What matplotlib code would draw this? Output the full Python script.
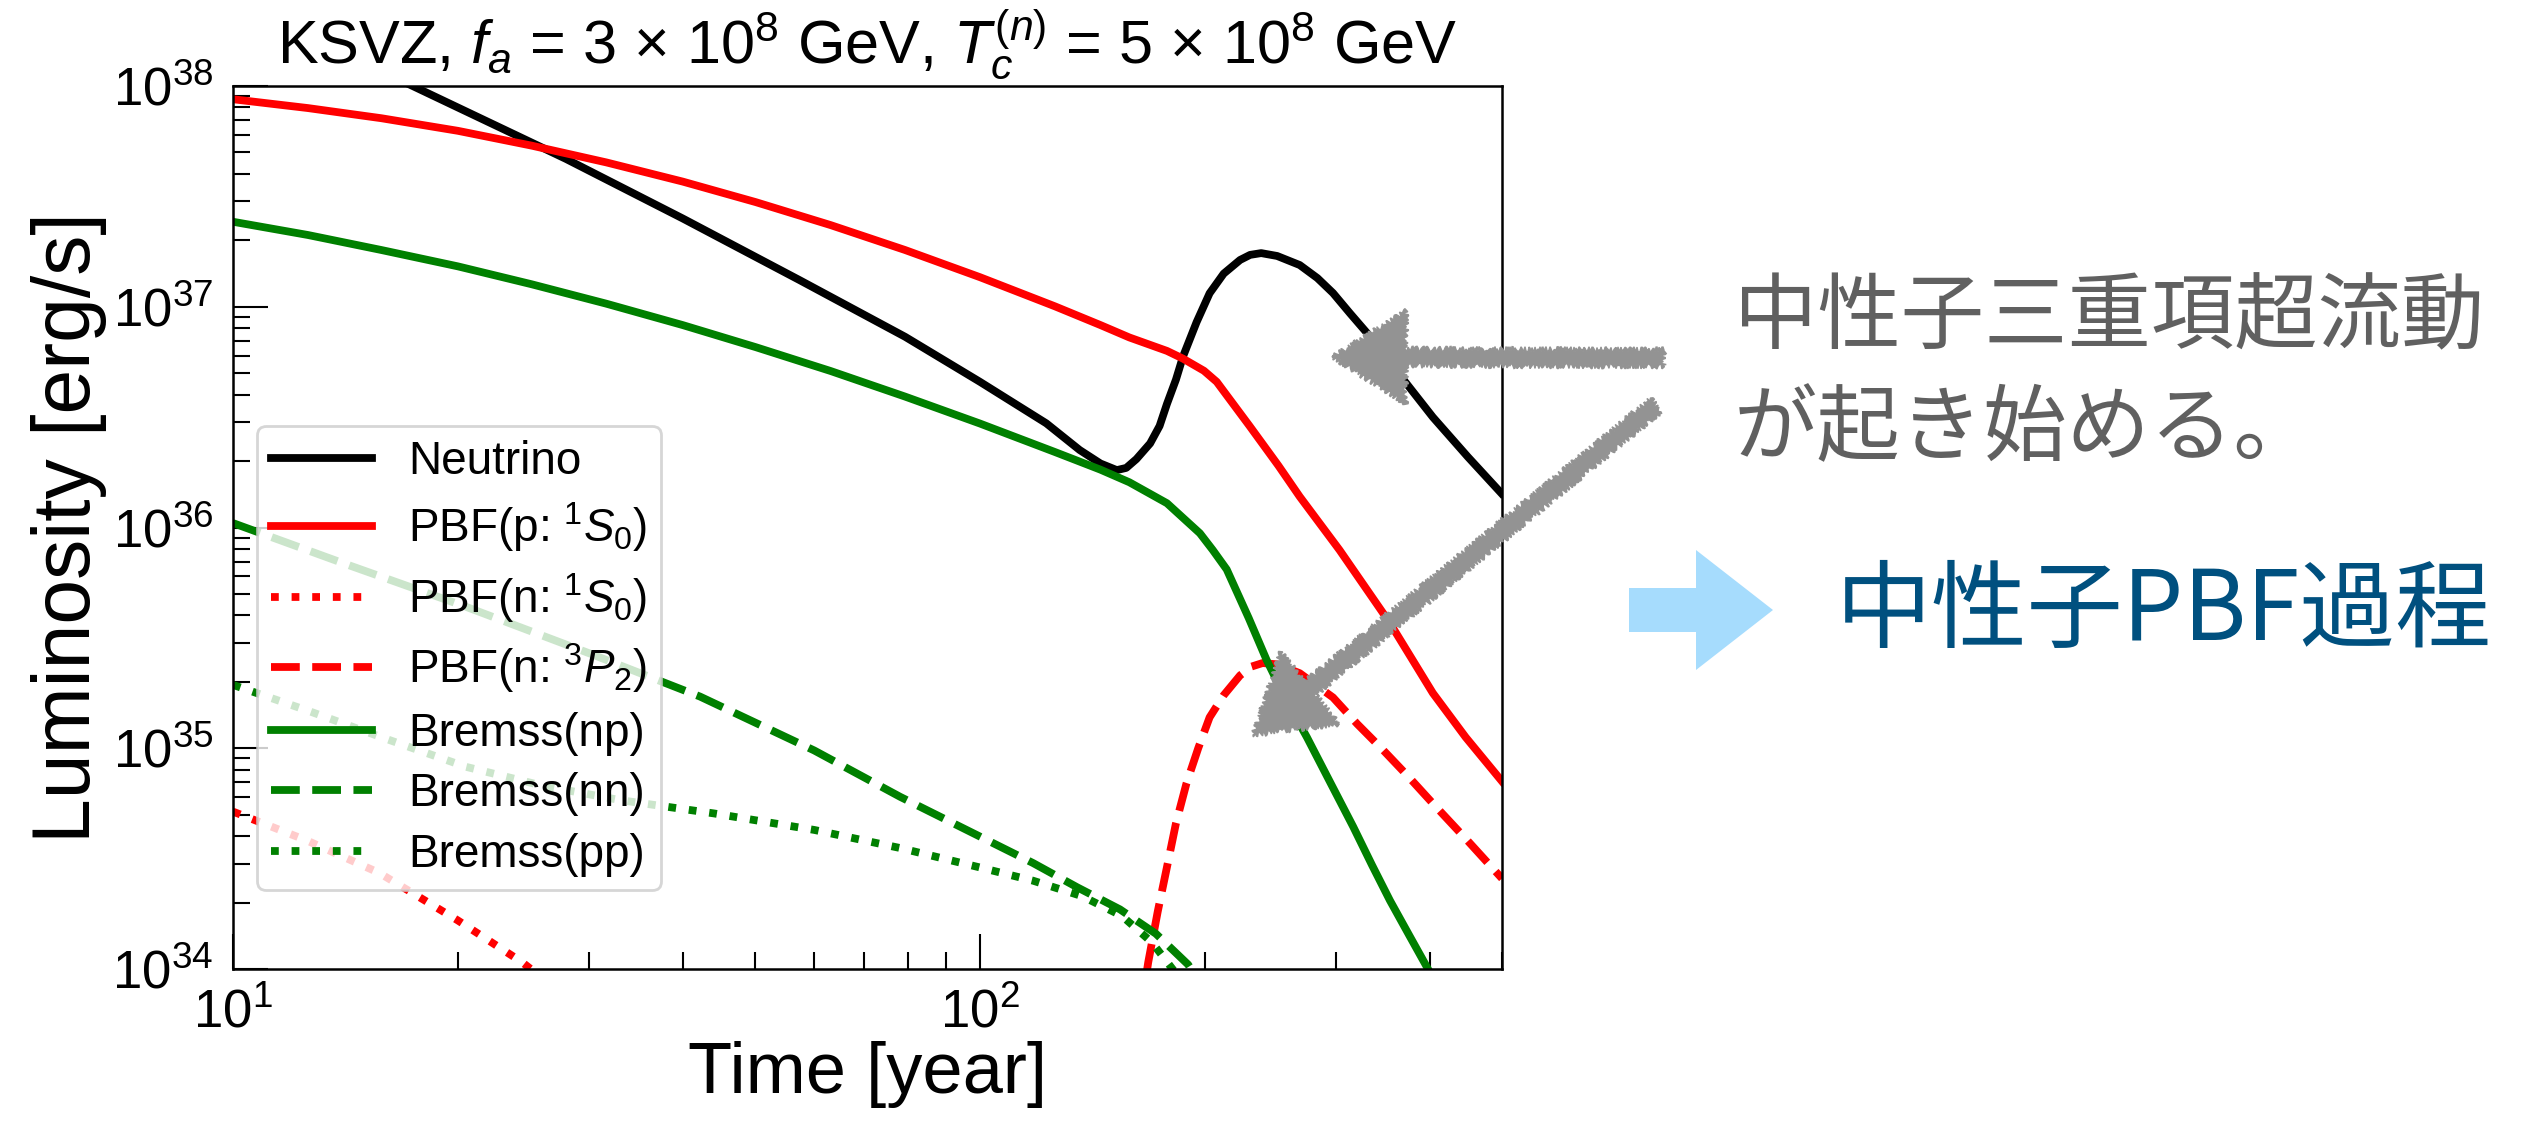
import matplotlib
matplotlib.use("Agg")
import matplotlib.pyplot as plt
import numpy as np
from matplotlib.patches import FancyArrow, Polygon

plt.rcParams['font.family'] = ['Liberation Sans', 'DejaVu Sans']
plt.rcParams['mathtext.fontset'] = 'custom'
plt.rcParams['mathtext.rm'] = 'Liberation Sans'
plt.rcParams['mathtext.it'] = 'Liberation Sans:italic'
plt.rcParams['mathtext.bf'] = 'Liberation Sans:bold'

# time [year] and log10(L [erg/s]) for each emission channel
t_nu = [10, 17.4, 27.9, 40, 57.4, 79.4, 100, 122.7, 136, 145, 152.5, 157, 162, 169, 174,
        178, 183, 187, 195, 203, 212, 223, 230, 238, 250, 268, 283, 297, 313, 330, 365,
        404, 450, 499]
logL_nu = [38.39, 38.0, 37.67, 37.40, 37.12, 36.864, 36.66, 36.472, 36.351, 36.29,
           36.26, 36.27, 36.31, 36.381, 36.46, 36.56, 36.67, 36.774, 36.93, 37.061,
           37.15, 37.212, 37.235, 37.243, 37.23, 37.189, 37.13, 37.062, 36.97, 36.88,
           36.69, 36.50, 36.32, 36.155]

t_pbf_p = [10, 12.6, 15.8, 20, 25.1, 31.6, 40, 50.1, 63.1, 79.4, 100, 126, 145, 158.5,
           178, 187, 199.5, 207.5, 229.6, 251, 268, 303, 354, 404, 447, 500]
logL_pbf_p = [37.94, 37.90, 37.854, 37.797, 37.73, 37.654, 37.567, 37.474, 37.37, 37.257,
              37.134, 37.002, 36.917, 36.861, 36.80, 36.765, 36.71, 36.66, 36.46, 36.28,
              36.14, 35.898, 35.567, 35.25, 35.05, 34.85]

t_pbf_n1s0 = [10, 12.6, 15.7, 20, 24.4, 28]
logL_pbf_n1s0 = [34.713, 34.58, 34.435, 34.22, 34.03, 33.87]

t_pbf_n3p2 = [164, 168, 173, 178, 183, 189, 196, 203, 212, 223, 231, 239, 250, 268, 297,
              320, 347, 375, 404, 450, 500]
logL_pbf_n3p2 = [33.8, 34.03, 34.26, 34.462, 34.66, 34.84, 35.0, 35.14, 35.24, 35.33,
                 35.37, 35.386, 35.38, 35.34, 35.23, 35.11, 34.99, 34.87, 34.75, 34.58,
                 34.41]

t_np = [10, 12.6, 15.8, 20, 25.1, 31.6, 40, 50.1, 63.1, 79.4, 100, 126, 145, 158.5, 178,
        197, 205, 214, 229, 242, 257, 274, 295, 316, 335, 354, 376, 398, 420]
logL_np = [37.385, 37.325, 37.257, 37.183, 37.102, 37.014, 36.917, 36.817, 36.709, 36.593,
           36.471, 36.342, 36.262, 36.205, 36.11, 35.974, 35.898, 35.81, 35.59, 35.40,
           35.22, 35.05, 34.84, 34.645, 34.47, 34.31, 34.15, 34.0, 33.85]

t_nn = [10, 14, 20.5, 30, 42.2, 60, 78.2, 100, 117.8, 135, 154, 172, 190, 200]
logL_nn = [36.02, 35.84, 35.641, 35.43, 35.234, 34.99, 34.78, 34.60, 34.48, 34.37,
           34.27, 34.16, 34.02, 33.9]

t_pp = [10, 12.6, 15.8, 20.5, 26, 33, 44, 60, 78.2, 100, 117.8, 137, 155, 170, 183, 190]
logL_pp = [35.287, 35.17, 35.05, 34.916, 34.83, 34.765, 34.705, 34.63, 34.548, 34.46,
           34.40, 34.33, 34.24, 34.12, 33.98, 33.9]

W, H, DPI = 2526, 1123, 100
fig = plt.figure(figsize=(W / DPI, H / DPI), dpi=DPI)
ax = fig.add_axes([233 / W, 1 - 969 / H, 1269 / W, 883 / H])

lw = 5.6
ax.plot(t_nu, 10 ** np.array(logL_nu), color='black', lw=lw, label='Neutrino')
ax.plot(t_pbf_p, 10 ** np.array(logL_pbf_p), color='red', lw=lw, label=r'PBF(p: $^1S_0$)')
ax.plot(t_pbf_n1s0, 10 ** np.array(logL_pbf_n1s0), color='red', lw=lw, ls=':',
        label=r'PBF(n: $^1S_0$)')
ax.plot(t_pbf_n3p2, 10 ** np.array(logL_pbf_n3p2), color='red', lw=lw, ls='--',
        label=r'PBF(n: $^3P_2$)')
ax.plot(t_np, 10 ** np.array(logL_np), color='green', lw=lw, label='Bremss(np)')
ax.plot(t_nn, 10 ** np.array(logL_nn), color='green', lw=lw, ls='--', label='Bremss(nn)')
ax.plot(t_pp, 10 ** np.array(logL_pp), color='green', lw=lw, ls=':', label='Bremss(pp)')

ax.set_xscale('log')
ax.set_yscale('log')
ax.set_xlim(10, 500)
ax.set_ylim(1e34, 1e38)

ax.tick_params(which='both', direction='in', top=False, right=False, width=1.5)
ax.tick_params(which='major', length=25, labelsize=38, pad=14)
ax.tick_params(which='minor', length=12)
for s in ax.spines.values():
    s.set_linewidth(1.8)

ax.set_xlabel('Time [year]', fontsize=52, labelpad=2)
ax.set_ylabel('Luminosity [erg/s]', fontsize=58, labelpad=4)
ax.set_title('KSVZ, $f_a$ = 3 × 10$^8$ GeV, $T_c^{(n)}$ = 5 × 10$^8$ GeV',
             fontsize=44, pad=16)

leg = ax.legend(loc='lower left', bbox_to_anchor=(0.019, 0.089), borderaxespad=0,
                fontsize=33, handlelength=2.2, handletextpad=0.8, labelspacing=0.36,
                borderpad=0.3, framealpha=0.8, edgecolor='#cccccc', fancybox=True)
leg.get_frame().set_linewidth(2)

# annotation overlay, positions in pixels from the top-left corner
def px(x, y):
    return x / DPI, (H - y) / DPI

tr = fig.dpi_scale_trans
gray = '#939393'
for (x0, y0), (x1, y1) in [((1664, 358), (1332, 357)), ((1656, 405), (1253, 735))]:
    a0, b0 = px(x0, y0)
    a1, b1 = px(x1, y1)
    arr = FancyArrow(a0, b0, a1 - a0, b1 - b0, width=0.17, head_width=0.93,
                     head_length=0.74, length_includes_head=True, color=gray,
                     transform=tr, zorder=10)
    arr.set_sketch_params(scale=2.5, length=5, randomness=4)
    fig.add_artist(arr)

blue_arrow = [(1629, 588), (1696, 588), (1696, 550), (1773, 610), (1696, 670),
              (1696, 632), (1629, 632)]
fig.add_artist(Polygon([px(x, y) for x, y in blue_arrow], closed=True,
                       facecolor='#a6dcfd', edgecolor='none', transform=tr))

jp = ['Noto Sans CJK JP', 'DejaVu Sans']
fig.text(*px(1734, 318), '中性子三重項超流動', family=jp, fontsize=60, color='#606060',
         va='center', ha='left', transform=tr)
fig.text(*px(1734, 430), 'が起き始める。', family=jp, fontsize=60, color='#606060',
         va='center', ha='left', transform=tr)
fig.text(*px(1836, 612), '中性子PBF過程', family=jp, fontsize=69, color='#00507f',
         va='center', ha='left', transform=tr)

fig.savefig('out.png', dpi=DPI)
